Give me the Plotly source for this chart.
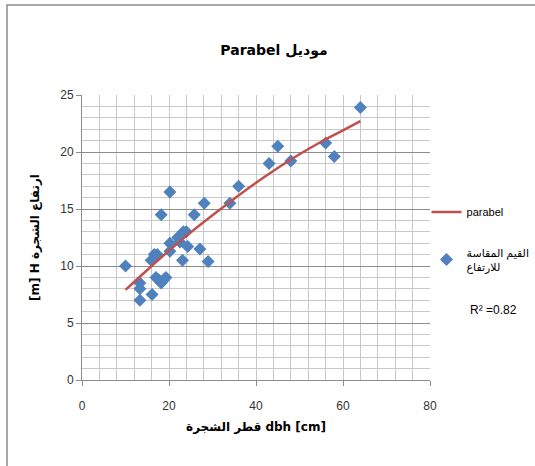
import plotly.graph_objects as go

dbh = [10, 13.3, 13.3, 13.3, 16.1, 15.9, 16.6, 17.3, 17.0, 17.6, 18.2, 18.8, 19.3,
       18.2, 20.2, 20.2, 20.2, 22.0, 22.5, 23.0, 23.3, 24.0, 23.1, 24.3, 25.8,
       27.1, 28.1, 29.0, 34.0, 36.0, 43.0, 45.0, 48.0, 56.0, 58.0, 64.0]
height = [10.0, 8.5, 8.0, 7.0, 7.5, 10.5, 11.0, 11.0, 9.0, 8.8, 8.5, 8.8, 9.0,
          14.5, 16.5, 12.0, 11.3, 12.5, 12.1, 12.8, 13.0, 13.0, 10.5, 11.7, 14.5,
          11.5, 15.5, 10.4, 15.5, 17.0, 19.0, 20.5, 19.2, 20.8, 19.6, 23.9]

# Parabola curve
curve_x = [10, 15, 20, 25, 30, 35, 40, 45, 50, 55, 60, 64]
curve_y = [7.9, 9.65, 11.35, 12.95, 14.45, 15.9, 17.3, 18.6, 19.8, 20.9, 21.9, 22.7]

x_ticks = [0, 20, 40, 60, 80]
y_ticks = [0, 5, 10, 15, 20, 25]

title_text = "Parabel موديل"
x_title = "قطر الشجرة dbh [cm]"
y_title = "[m] H ارتفاع الشجرة"
line_name = "parabel"
pts_name = "القيم المقاسة<br>للارتفاع"
r2_text = "R² =0.82"

FONT = "Liberation Sans, DejaVu Sans, sans-serif"

fig = go.Figure()
fig.add_trace(go.Scatter(
    x=dbh, y=height, mode="markers", name=pts_name, legendrank=2, legendgroup="b",
    marker=dict(symbol="diamond", size=10, color="#4f81bd",
                line=dict(width=0)),
))
fig.add_trace(go.Scatter(
    x=curve_x, y=curve_y, mode="lines", name=line_name, legendrank=1, legendgroup="a",
    line=dict(color="#c0504d", width=2.5, shape="spline"),
))

fig.update_layout(
    width=535, height=466,
    margin=dict(l=82, r=105, t=95, b=86, autoexpand=False),
    paper_bgcolor="white", plot_bgcolor="white",
    font=dict(family=FONT, size=11, color="#333333"),
    title=dict(text=title_text, x=274 / 535, xanchor="center", y=1 - 50 / 466,
               yanchor="middle", font=dict(size=14, color="#000000",
                                           family="DejaVu Sans, sans-serif", weight="bold")),
    showlegend=True,
    legend=dict(x=0.99, y=0.64, xanchor="left", yanchor="top",
                bgcolor="rgba(0,0,0,0)", tracegroupgap=22,
                font=dict(size=11, color="#000000"), itemwidth=30),
    annotations=[dict(text=r2_text, xref="paper", yref="paper",
                      x=(493 - 82) / 348, y=(380 - 310) / 285,
                      xanchor="center", yanchor="middle", showarrow=False,
                      font=dict(size=12, color="#000000"))],
    shapes=[dict(type="rect", xref="paper", yref="paper",
                 x0=(7 - 82) / 348, x1=(545 - 82) / 348,
                 y0=(380 - 480) / 285, y1=(380 - 5) / 285,
                 line=dict(color="#8c8c8c", width=1.5), fillcolor="rgba(0,0,0,0)",
                 layer="below")],
)

fig.update_xaxes(
    range=[0, 80], tickvals=x_ticks, showline=True, linecolor="#8c8c8c",
    linewidth=1, ticks="outside", ticklen=5, tickcolor="#8c8c8c",
    ticklabelstandoff=10,
    showgrid=True, gridcolor="#c8c8c8", gridwidth=1, zeroline=False,
    minor=dict(dtick=4, showgrid=True, gridcolor="#c8c8c8", gridwidth=1),
    title=dict(text=x_title, font=dict(size=12, color="#000000",
                                       family="DejaVu Sans, sans-serif", weight="bold"),
               standoff=10),
    tickfont=dict(size=12, color="#333333"),
)
fig.update_yaxes(
    range=[0, 25], tickvals=y_ticks, showline=True, linecolor="#8c8c8c",
    linewidth=1, ticks="outside", ticklen=5, tickcolor="#8c8c8c",
    showgrid=True, gridcolor="#8c8c8c", gridwidth=1, zeroline=False,
    minor=dict(dtick=1, showgrid=True, gridcolor="#c8c8c8", gridwidth=1),
    title=dict(text=y_title, font=dict(size=12, color="#000000",
                                       family="DejaVu Sans, sans-serif", weight="bold"),
               standoff=18),
    tickfont=dict(size=12, color="#333333"),
)

fig.write_html("out.html")
